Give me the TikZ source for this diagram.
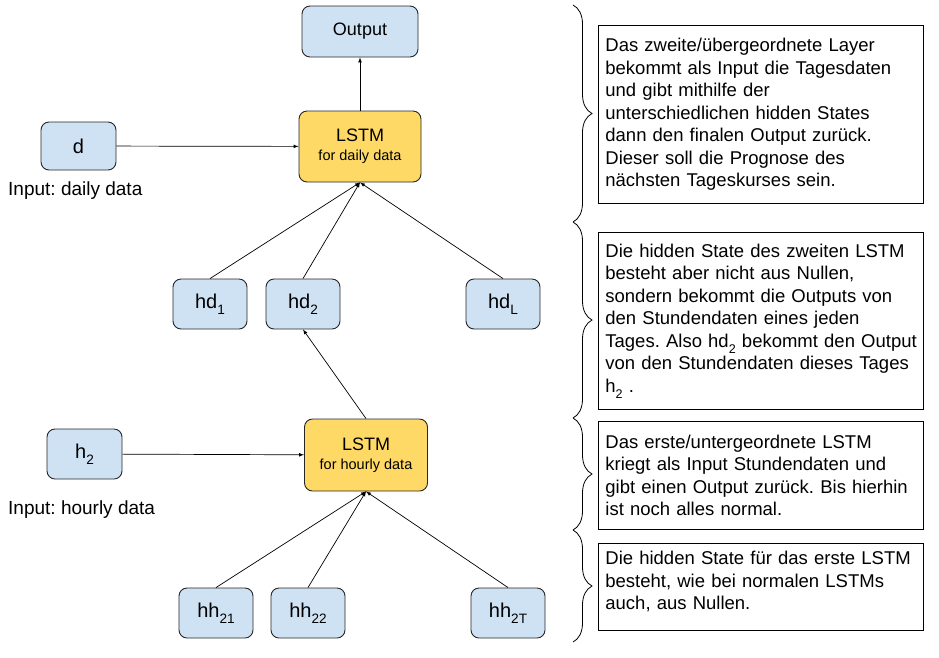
\documentclass[tikz,border=0pt]{standalone}
\usepackage{fontspec}
\setmainfont{Liberation Sans}
\frenchspacing
\usetikzlibrary{positioning,decorations.pathreplacing}
\definecolor{cellblue}{HTML}{CFE2F3}
\definecolor{lstmyellow}{HTML}{FFD966}
\newcommand{\lowidx}[1]{\raisebox{-0.6ex}{\scalebox{0.68}{#1}}}

\begin{document}
\begin{tikzpicture}[x=1pt, y=-1pt,
  cell/.style = {draw=black!85, fill=cellblue, rounded corners=8pt, line width=0.9pt,
    minimum width=74pt, minimum height=50pt, inner sep=0pt,
    font=\fontsize{20}{23}\selectfont},
  lstm/.style = {cell, fill=lstmyellow, minimum width=122pt, minimum height=71pt,
    align=center, font=\fontsize{18}{19}\selectfont},
  note/.style = {draw, line width=0.8pt, anchor=north west, text width=311pt,
    inner xsep=7pt, inner ysep=0pt, align=left,
    font=\fontsize{18.5}{22.5}\selectfont},
  lbl/.style = {anchor=west, inner sep=0pt, font=\fontsize{19}{22}\selectfont},
  arr/.style = {line width=0.7pt, -latex},
  brc/.style = {decorate, decoration={brace, amplitude=19pt}, line width=0.8pt}
  ]
  \useasboundingbox (0,0) rectangle (939,657);

  % upper layer
  \node[cell, minimum width=116pt, minimum height=51pt,
    font=\fontsize{18}{21}\selectfont] (out) at (360,31.5) {Output};
  \node[lstm] (lstmd) at (360,146.5)
    {LSTM\\{\fontsize{14.5}{16}\selectfont for daily data}};
  \node[cell, minimum width=75pt, minimum height=48pt] (d) at (78.5,146) {d};
  \node[lbl] (din) at (8,191) {Input: daily data};

  \node[cell] (hd1) at (210,304) {hd\lowidx{1}};
  \node[cell] (hd2) at (303,304) {hd\lowidx{2}};
  \node[cell] (hdL) at (503,304) {hd\lowidx{L}};

  % lower layer
  \node[lstm, minimum width=123pt, minimum height=72pt] (lstmh) at (366,455)
    {LSTM\\{\fontsize{14.5}{16}\selectfont for hourly data}};
  \node[cell, minimum width=75pt] (h2) at (84.5,454) {h\lowidx{2}};
  \node[lbl] (hin) at (8,510) {Input: hourly data};

  \node[cell] (hh21) at (216,613) {hh\lowidx{21}};
  \node[cell] (hh22) at (308,613) {hh\lowidx{22}};
  \node[cell] (hh2T) at (508,613) {hh\lowidx{2T}};

  \draw[arr] (lstmd) -- (out);
  \draw[arr] (d) -- (lstmd);
  \foreach \n in {hd1,hd2,hdL}
    \draw[arr] (\n.north) -- (lstmd.south);
  \draw[arr] (lstmh.north) -- (hd2.south);
  \draw[arr] (h2) -- (lstmh);
  \foreach \n in {hh21,hh22,hh2T}
    \draw[arr] (\n.north) -- (lstmh.south);

  % braces and notes
  \foreach \a/\b in {5/222,222/418,418/530,530/642}
    \draw[brc] (573,\a) -- (573,\b);

  \node[note, minimum height=178pt] (n1) at (598,25)
    {Das zweite/übergeordnete Layer\\
     bekommt als Input die Tagesdaten\\
     und gibt mithilfe der\\
     unterschiedlichen hidden States\\
     dann den finalen Output zurück.\\
     Dieser soll die Prognose des\\
     nächsten Tageskurses sein.};
  \node[note, minimum height=177pt] (n2) at (598,232)
    {Die hidden State des zweiten LSTM\\
     besteht aber nicht aus Nullen,\\
     sondern bekommt die Outputs von\\
     den Stundendaten eines jeden\\
     \mbox{Tages. Also hd\lowidx{2} bekommt den Output}\\
     von den Stundendaten dieses Tages\\
     h\lowidx{2} .};
  \node[note, minimum height=108pt] (n3) at (598,421)
    {Das erste/untergeordnete LSTM\\
     kriegt als Input Stundendaten und\\
     gibt einen Output zurück. Bis hierhin\\
     ist noch alles normal.};
  \node[note, minimum height=87pt] (n4) at (598,543)
    {Die hidden State für das erste LSTM\\
     besteht, wie bei normalen LSTMs\\
     auch, aus Nullen.\\[-17pt]\strut};
\end{tikzpicture}
\end{document}
